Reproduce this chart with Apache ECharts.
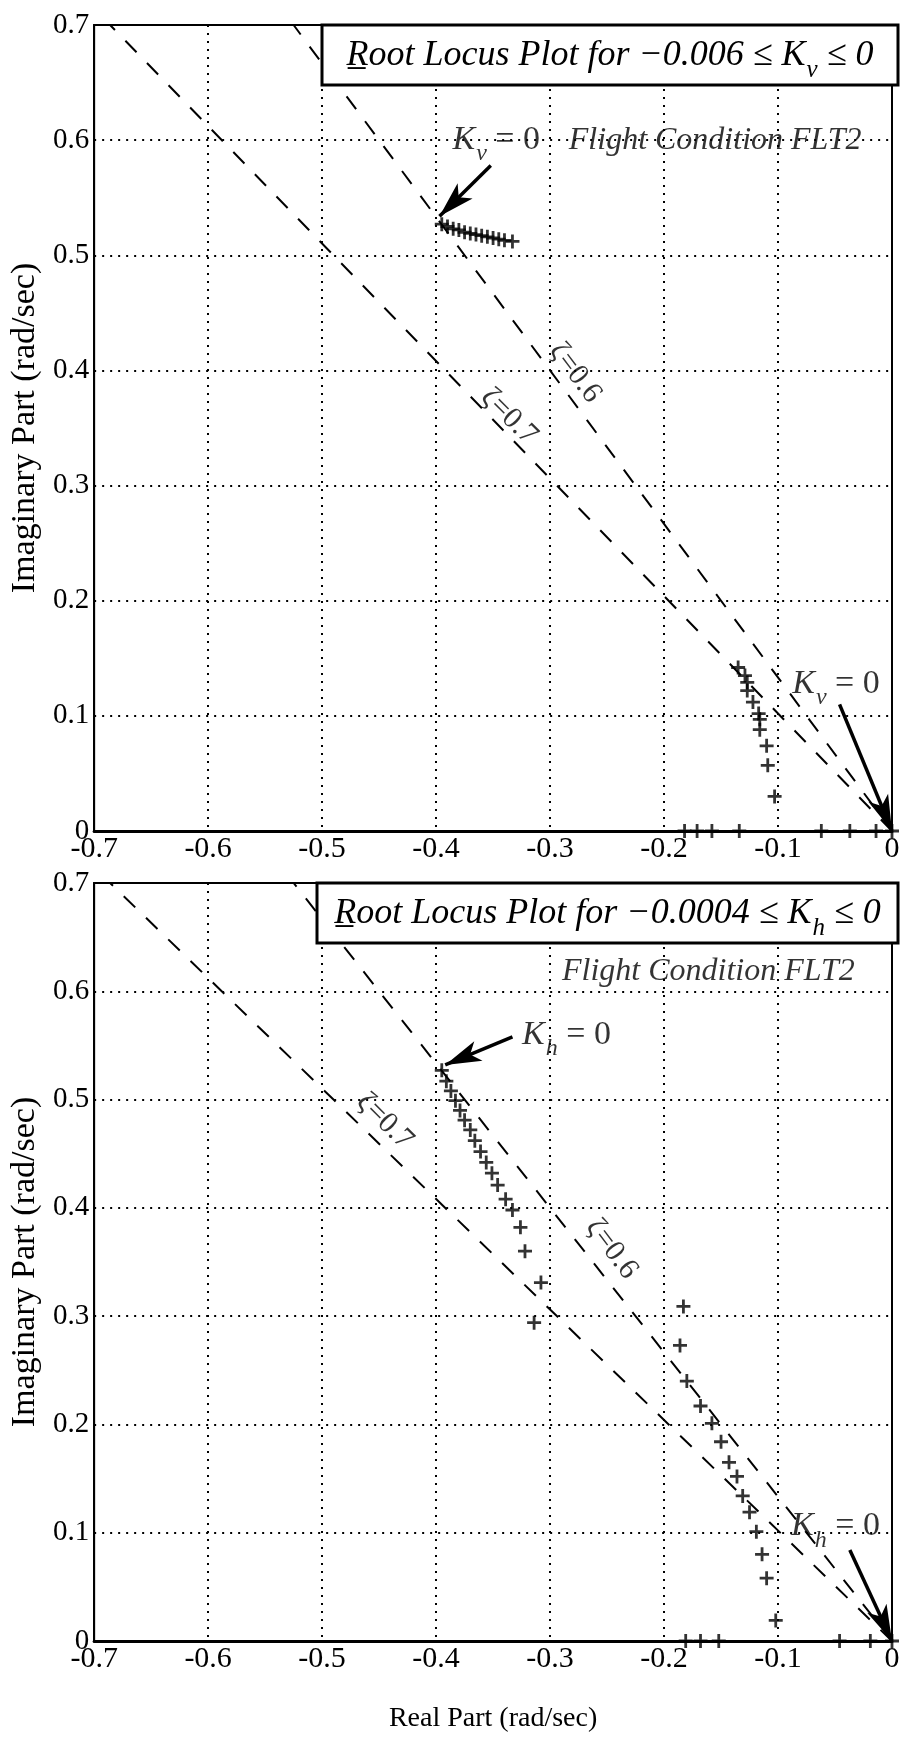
<!DOCTYPE html>
<html><head><meta charset="utf-8">
<script src="https://cdn.jsdelivr.net/npm/echarts@6/dist/echarts.min.js"></script>
<style>html,body{margin:0;padding:0;background:#fff}#c{width:910px;height:1752px}</style>
</head><body><div id="c"></div>
<script>
// ---------- tick labels ----------
const xTickLabels = ['-0.7','-0.6','-0.5','-0.4','-0.3','-0.2','-0.1','0'];
const yTickLabels = ['0','0.1','0.2','0.3','0.4','0.5','0.6','0.7'];

// ---------- damping-ratio lines (end points) ----------
const zeta07Line = [[0, 0], [-0.686, 0.7]];
const zeta06Line = [[0, 0], [-0.525, 0.7]];

// ---------- top plot (K_v) root locus points ----------
const topUpperX = [-0.395,-0.390,-0.385,-0.380,-0.375,-0.370,-0.365,-0.360,-0.355,-0.350,-0.345,-0.340,-0.333];
const topUpperY = [0.527,0.525,0.523,0.522,0.520,0.519,0.518,0.517,0.516,0.515,0.514,0.513,0.512];
const topLowerX = [-0.135,-0.129,-0.127,-0.127,-0.122,-0.117,-0.116,-0.116,-0.110,-0.109,-0.103];
const topLowerY = [0.142,0.135,0.129,0.122,0.112,0.102,0.097,0.088,0.074,0.057,0.030];
const topRealX  = [-0.182,-0.171,-0.158,-0.134,-0.062,-0.037,-0.014,0];
const topRealY  = [0,0,0,0,0,0,0,0];

// ---------- bottom plot (K_h) root locus points ----------
const botUpperX = [-0.395,-0.391,-0.387,-0.383,-0.379,-0.375,-0.370,-0.366,-0.361,-0.356,-0.351,-0.346,-0.339,-0.333,-0.326,-0.322,-0.308,-0.314];
const botUpperY = [0.527,0.517,0.508,0.499,0.490,0.481,0.472,0.462,0.452,0.442,0.432,0.421,0.408,0.398,0.382,0.360,0.331,0.294];
const botLowerX = [-0.183,-0.186,-0.180,-0.168,-0.158,-0.150,-0.143,-0.136,-0.131,-0.125,-0.119,-0.114,-0.110,-0.102];
const botLowerY = [0.309,0.273,0.240,0.217,0.201,0.184,0.165,0.152,0.134,0.119,0.101,0.080,0.058,0.019];
const botRealX  = [-0.181,-0.168,-0.152,-0.046,-0.019,0];
const botRealY  = [0,0,0,0,0,0];

// ---------- arrows [tail, tip] ----------
const topArrows = [[[-0.352,0.578],[-0.397,0.534]], [[-0.046,0.110],[0,0]]];
const botArrows = [[[-0.333,0.558],[-0.392,0.532]], [[-0.037,0.084],[0,0]]];

// ---------- annotation anchors ----------
const topKText = [[-0.386,0.600],[-0.088,0.128]];
const botKText = [[-0.325,0.560],[-0.089,0.106]];
const topFlight = [-0.284,0.600];
const botFlight = [-0.290,0.618];
const topZeta = [{p:[-0.336,0.360], t:'ζ=0.7', r:-45}, {p:[-0.278,0.398], t:'ζ=0.6', r:-53}];
const botZeta = [{p:[-0.445,0.480], t:'ζ=0.7', r:-45}, {p:[-0.246,0.362], t:'ζ=0.6', r:-53}];

const SERIF = '"Liberation Serif","DejaVu Serif",serif';
const PLUS = 'path://M4,0H6V4H10V6H6V10H4V6H0V4H4Z';

// subscript: top padding pushes the small glyph down inside its token
const kRich = {
  k: {fontFamily:SERIF, fontStyle:'italic', fontSize:34, color:'#000', lineHeight:36},
  s: {fontFamily:SERIF, fontStyle:'italic', fontSize:24, color:'#000', lineHeight:24, padding:[28,0,0,1]},
  n: {fontFamily:SERIF, fontSize:34, color:'#000', lineHeight:36}
};

const grids = [
  {left:76, top:25, width:816, height:806},
  {left:76, top:883, width:816, height:758}
];

function xAx(i, withName){
  return {type:'value', gridIndex:i, min:-0.7, max:0, interval:0.1,
    axisLine:{show:true, onZero:false, lineStyle:{color:'#000', width:3}},
    axisTick:{show:false},
    axisLabel:{color:'#000', fontFamily:SERIF, fontSize:30, margin:3,
      formatter:v=>xTickLabels[Math.round((v+0.7)/0.1)]},
    splitLine:{show:true, lineStyle:{color:'#000', width:2, type:[2,6]}},
    name: withName ? 'Real Part (rad/sec)' : '', nameLocation:'middle', nameGap:64,
    nameTextStyle:{color:'#000', fontFamily:SERIF, fontSize:28}
  };
}
function yAx(i){
  return {type:'value', gridIndex:i, min:0, max:0.7, interval:0.1,
    axisLine:{show:true, onZero:false, lineStyle:{color:'#000', width:2}},
    axisTick:{show:false},
    axisLabel:{color:'#000', fontFamily:SERIF, fontSize:29, margin:5,
      formatter:v=>yTickLabels[Math.round(v/0.1)]},
    splitLine:{show:true, lineStyle:{color:'#000', width:2, type:[2,6]}},
    name:'Imaginary Part (rad/sec)', nameLocation:'middle', nameGap:41, nameRotate:90,
    nameTextStyle:{color:'#000', fontFamily:SERIF, fontSize:34}
  };
}

const zip = (xs, ys) => xs.map((x,i)=>[x, ys[i]]);

function plusSeries(i, xs, ys){
  return {type:'scatter', xAxisIndex:i, yAxisIndex:i, data:zip(xs,ys), symbol:PLUS, symbolSize:14,
    itemStyle:{color:'#000'}, clip:false, silent:true, z:5};
}
function dashSeries(i, pts){
  return {type:'line', xAxisIndex:i, yAxisIndex:i, data:pts, symbol:'none', silent:true,
    lineStyle:{color:'#000', width:2, type:[16,15]}, z:3};
}
function arrowSeries(i, arrows){
  return {type:'line', xAxisIndex:i, yAxisIndex:i, data:[], silent:true,
    markLine:{silent:true, symbol:['none','arrow'], symbolSize:[16,36], label:{show:false},
      lineStyle:{color:'#000', width:3.5, type:'solid'},
      data: arrows.map(a=>[{coord:a[0]},{coord:a[1]}])}, z:6};
}
function textSeries(i, items){
  return {type:'scatter', xAxisIndex:i, yAxisIndex:i, symbolSize:1, silent:true, clip:false,
    itemStyle:{color:'rgba(0,0,0,0)'}, z:7,
    data: items.map(it=>({value:it.p, label:it.label}))};
}
function kLabels(pts, sub){
  return pts.map(p=>({p, label:{show:true, position:'right', distance:0,
    formatter:'{k|K}{s|'+sub+'}{n| = 0}', rich:kRich}}));
}
function flightLabel(p){
  return {p, label:{show:true, position:'right', distance:0, formatter:'Flight Condition FLT2',
    fontFamily:SERIF, fontStyle:'italic', fontSize:32, color:'#000'}};
}
function zetaLabels(list){
  return list.map(z=>({p:z.p, label:{show:true, position:'inside', formatter:z.t, rotate:z.r,
    fontFamily:SERIF, fontSize:30, color:'#000'}}));
}

const boxRich = {
  t:{fontFamily:SERIF, fontStyle:'italic', fontSize:36, fill:'#000', lineHeight:38},
  k:{fontFamily:SERIF, fontStyle:'italic', fontSize:36, fill:'#000', lineHeight:38},
  s:{fontFamily:SERIF, fontStyle:'italic', fontSize:25, fill:'#000', lineHeight:25, padding:[28,0,0,1]}
};
function titleBox(x, y, w, h, num, sub){
  return [
    {type:'rect', shape:{x:x, y:y, width:w, height:h}, style:{fill:'#fff', stroke:'#000', lineWidth:3}, z:100},
    {type:'text', x:x + w/2, y:y + h/2 + 1, z:101,
      style:{text:'{t|R\u0332oot Locus Plot for −'+num+' ≤ }{k|K}{s|'+sub+'}{t| ≤ 0}', rich:boxRich,
        align:'center', verticalAlign:'middle'}}
  ];
}

const option = {
  animation:false,
  backgroundColor:'#fff',
  grid: grids.map(g=>Object.assign({show:true, borderColor:'#000', borderWidth:2, backgroundColor:'transparent'}, g)),
  xAxis:[xAx(0,false), xAx(1,true)],
  yAxis:[yAx(0), yAx(1)],
  series:[
    dashSeries(0, zeta07Line), dashSeries(0, zeta06Line),
    plusSeries(0, topUpperX, topUpperY), plusSeries(0, topLowerX, topLowerY), plusSeries(0, topRealX, topRealY),
    arrowSeries(0, topArrows),
    textSeries(0, kLabels(topKText,'v').concat([flightLabel(topFlight)]).concat(zetaLabels(topZeta))),
    dashSeries(1, zeta07Line), dashSeries(1, zeta06Line),
    plusSeries(1, botUpperX, botUpperY), plusSeries(1, botLowerX, botLowerY), plusSeries(1, botRealX, botRealY),
    arrowSeries(1, botArrows),
    textSeries(1, kLabels(botKText,'h').concat([flightLabel(botFlight)]).concat(zetaLabels(botZeta)))
  ],
  graphic: titleBox(322, 25, 576, 60, '0.006', 'v').concat(titleBox(317, 883, 581, 60, '0.0004', 'h'))
};
const chart = echarts.init(document.getElementById('c'), null, {renderer:'canvas'});
chart.setOption(option);
</script>
</body></html>
